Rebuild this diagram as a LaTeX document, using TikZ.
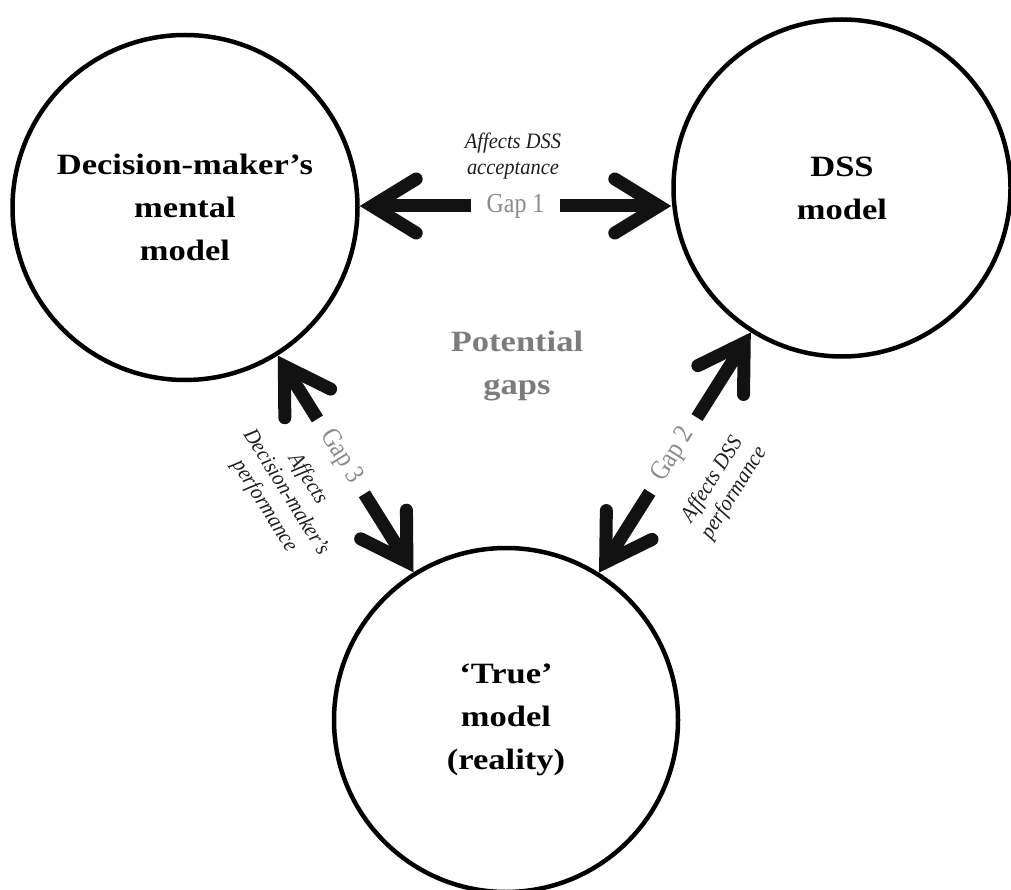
\documentclass[tikz,border=0pt]{standalone}
\usepackage{fontspec}
\setmainfont{Liberation Serif}
\newfontfamily\widefont[FakeStretch=1.17]{Liberation Serif}
\newfontfamily\gapfont[FakeStretch=0.87]{Liberation Serif}
\newfontfamily\notefont[FakeStretch=0.93]{Liberation Serif}
\usetikzlibrary{arrows.meta,calc}

\definecolor{inkdark}{HTML}{121212}
\definecolor{gaptext}{HTML}{8A8A8A}
\definecolor{headtext}{HTML}{7C7C7C}
\definecolor{notetext}{HTML}{1E1E1E}

\tikzset{
  model/.style={circle, draw=black, line width=4.5pt, inner sep=0pt, align=center,
    font=\widefont\bfseries\fontsize{29.5}{43}\selectfont},
  gaparrow/.style={draw=inkdark, line width=13pt,
    -{Straight Barb[length=44pt, width=54pt, line cap=round, line join=miter]}},
  gaplabel/.style={inner sep=0pt, minimum width=88pt, minimum height=14pt,
    text=gaptext, font=\gapfont\fontsize{27.5}{30}\selectfont},
  note/.style={align=center, text=notetext,
    font=\notefont\itshape\fontsize{22}{25.5}\selectfont},
  headline/.style={align=center, text=headtext,
    font=\widefont\bfseries\fontsize{29.5}{43}\selectfont},
}

\begin{document}
\begin{tikzpicture}[x=1pt, y=-1pt]
  \useasboundingbox (0,0) rectangle (1011,890);

  % the three models
  \node[model, minimum size=345pt] (dm)    at (185,207.5) {Decision-maker’s\\mental\\model};
  \node[model, minimum size=337pt] (dss)   at (842,188)   {DSS\\model};
  \node[model, minimum size=344pt] (truth) at (506,720)   {‘True’\\model\\(reality)};

  % centre caption
  \node[headline] (pot) at (517,366) {Potential\\gaps};

  % gap 1: decision-maker <-> DSS
  \node[gaplabel] (g1) at (515.5,206) {Gap 1};
  \draw[gaparrow] (g1.west) -- (g1.west -| dm.east);
  \draw[gaparrow] (g1.east) -- (g1.east -| dss.west);
  \node[note] (n1) at (513,156) {Affects DSS\\acceptance};

  % gap 3: decision-maker <-> reality
  \path (dm) -- node[gaplabel, sloped, pos=0.465] (g3) {Gap 3} (truth);
  \draw[gaparrow] (g3) -- (dm);
  \draw[gaparrow] (g3) -- (truth);
  \path (dm) -- node[note, sloped, pos=0.47, anchor=north, inner xsep=0pt, inner ysep=30pt] (n3)
    {Affects\\Decision-maker’s\\performance} (truth);

  % gap 2: DSS <-> reality
  \path (dss) -- node[gaplabel, sloped, pos=0.51] (g2) {Gap 2} (truth);
  \draw[gaparrow] (g2) -- (dss);
  \draw[gaparrow] (g2) -- (truth);
  \path (dss) -- node[note, sloped, pos=0.51, anchor=north, inner xsep=0pt, inner ysep=36pt] (n2)
    {Affects DSS\\performance} (truth);
\end{tikzpicture}
\end{document}
